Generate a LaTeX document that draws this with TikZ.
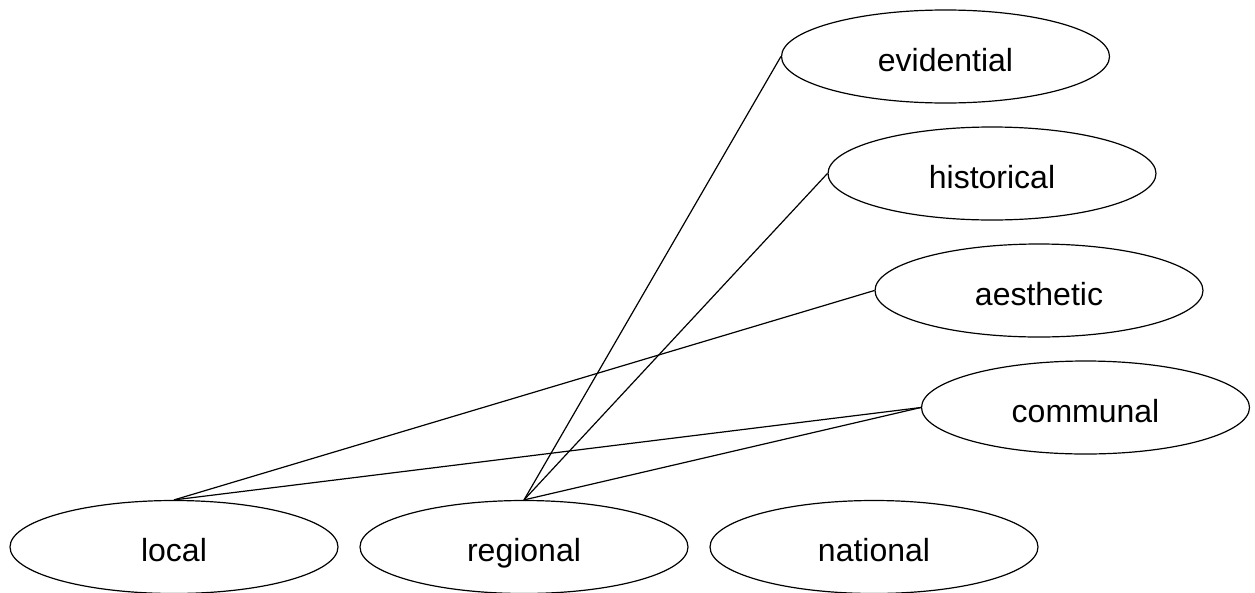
\documentclass[tikz,border=0pt]{standalone}
\usepackage{fontspec}
\setmainfont{Liberation Sans}
\usetikzlibrary{shapes.geometric}
\begin{document}
\begin{tikzpicture}[x=1pt,y=-1pt,
  ell/.style={draw, ellipse, minimum width=328pt, minimum height=93pt, inner sep=0pt, line width=1.2pt, text height=29pt, text depth=0pt, font=\fontsize{32}{36}\selectfont},
  conn/.style={line width=1.2pt}]
\useasboundingbox (0,0) rectangle (1255,592);
\node[ell] (evidential) at (945.5,56.5) {evidential};
\node[ell] (historical) at (992,173.5) {historical};
\node[ell] (aesthetic) at (1039,290.5) {aesthetic};
\node[ell] (communal) at (1085.5,407.5) {communal};
\node[ell] (local) at (174,547) {local};
\node[ell] (regional) at (524,547) {regional};
\node[ell] (national) at (874,547) {national};
\draw[conn] (local.north) -- (aesthetic.west);
\draw[conn] (local.north) -- (communal.west);
\draw[conn] (regional.north) -- (evidential.west);
\draw[conn] (regional.north) -- (historical.west);
\draw[conn] (regional.north) -- (communal.west);
\end{tikzpicture}
\end{document}
